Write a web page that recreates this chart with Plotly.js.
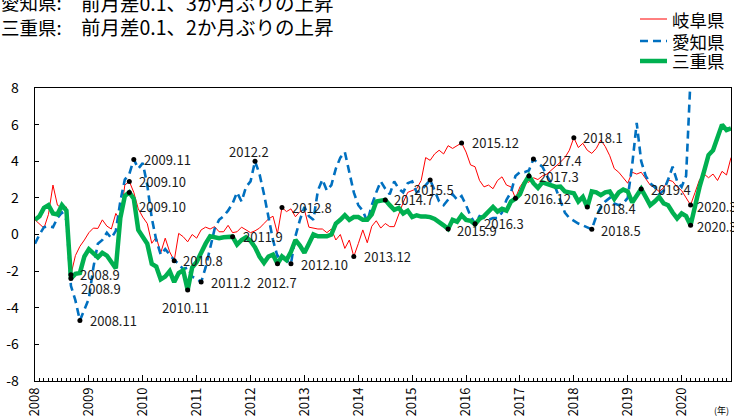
<!DOCTYPE html>
<html><head><meta charset="utf-8">
<script src="https://cdn.plot.ly/plotly-3.0.1.min.js"></script>
<style>html,body{margin:0;padding:0;background:#fff;}#chart{width:734px;height:416px;}</style>
</head><body><div id="chart"></div>
<script>
// ---- data ----
const startYear = 2008;
const yearTickText = ['2008','2009','2010','2011','2012','2013','2014','2015','2016','2017','2018','2019','2020'];
const yTickVals = [-8,-6,-4,-2,0,2,4,6,8];
const yTickText = ['-8','-6','-4','-2','0','2','4','6','8'];
const seriesNames = ['岐阜県','愛知県','三重県'];
const headPrefix = ['愛知県:','三重県:'];
const headText = ['前月差0.1、3か月ぶりの上昇','前月差0.1、2か月ぶりの上昇'];
const unitLabel = '(年)';

const gifu = [
0.8,0.6,0.35,1.1,2.7,1.6,1.45,1.5,-2.2,-1.15,
-0.65,-0.3,0.1,0.35,0.33,0.8,0.46,0.3,1.15,0.75,
2.7,2.9,2.3,1.4,0.95,0.6,-0.48,-0.15,-1.0,-0.2,
-0.95,-1.43,0.06,-0.12,-0.4,0.0,-0.2,0.25,0.4,0.3,
0.43,0.15,0.15,0.5,0.1,0.15,0.4,0.25,0.1,0.2,
0.35,0.6,0.85,1.0,0.05,1.48,1.25,1.4,0.97,1.25,
1.35,0.4,0.35,0.3,0.3,0.1,0.3,-0.3,0.0,-0.76,
-0.3,-1.2,-0.5,0.25,-0.45,0.45,0.75,0.35,0.6,0.43,
0.43,1.15,1.75,2.3,2.4,2.5,2.95,4.2,4.05,4.4,
4.6,4.4,4.85,4.7,4.85,5.0,4.5,3.8,3.7,2.95,
2.6,2.7,2.5,2.95,3.15,2.7,2.6,1.98,2.6,2.95,
2.85,3.1,3.0,3.2,3.3,3.5,3.7,3.95,4.2,4.6,
5.29,4.75,4.98,4.6,4.43,4.7,5.16,4.8,4.3,3.6,
3.4,3.1,2.8,3.4,3.3,3.4,3.05,2.7,2.55,2.35,
2.55,2.98,2.9,2.6,2.4,2.0,1.61,2.3,3.0,3.3,
3.1,3.3,2.95,3.45,3.25,4.2
];
const aichi = [
-0.5,0.0,0.4,0.45,0.4,0.9,1.2,0.8,-2.8,-3.6,
-4.7,-4.1,-3.5,-1.8,-0.5,-0.3,0.1,-0.2,0.2,1.8,
3.0,3.3,4.1,3.6,3.9,2.7,0.9,-0.3,-1.1,-0.8,
-1.1,-1.4,-1.6,-1.9,-1.8,-2.3,-2.4,-2.6,-1.8,-0.8,
0.3,0.8,1.0,1.3,1.7,2.3,1.8,2.6,2.9,4.0,
3.3,2.2,0.9,-0.3,-1.2,-1.1,-1.4,-1.6,-0.1,0.8,
1.5,1.0,0.8,2.4,3.0,2.4,2.7,3.6,4.2,4.5,
3.4,2.3,1.6,1.3,0.7,1.6,2.3,2.9,2.5,2.2,
2.9,2.5,2.3,2.8,2.9,2.3,2.4,2.7,2.98,2.4,
1.8,1.6,1.9,2.2,1.9,2.1,1.6,1.0,0.59,1.0,
0.9,0.8,0.9,0.9,1.2,1.9,2.3,3.2,3.4,3.4,
3.5,4.12,3.9,3.7,3.2,2.8,2.5,1.8,1.2,0.9,
0.75,0.6,0.5,0.4,0.28,1.0,1.5,1.8,2.0,1.7,
1.6,1.7,2.0,3.8,6.1,4.0,3.2,2.8,2.6,2.2,
2.4,3.0,3.7,2.9,2.6,3.2,8.6,null,null,null,
null,null,null,null,null,null
];
const mie = [
0.8,1.0,1.45,1.6,1.15,1.1,1.6,1.3,-2.4,-2.15,
-2.1,-1.2,-0.8,-1.05,-1.25,-1.0,-1.15,-1.5,-1.85,0.9,
2.1,2.3,1.95,0.25,-0.1,-0.5,-1.6,-1.75,-2.45,-2.3,
-2.0,-2.6,-2.1,-1.95,-3.03,-1.8,-1.5,-0.95,-0.5,-0.1,
-0.12,-0.2,-0.15,-0.15,-0.12,-0.55,-0.3,-0.15,-0.35,-0.7,
-1.2,-1.55,-1.2,-1.1,-1.6,-1.2,-1.4,-0.95,-0.3,-0.6,
-1.0,-0.5,0.0,-0.1,-0.1,-0.1,0.0,0.6,0.8,1.05,
0.8,0.95,0.95,0.8,0.8,1.1,1.8,1.85,1.89,1.6,
1.35,1.45,1.15,1.3,0.95,1.05,0.98,0.98,0.95,0.85,
0.7,0.5,0.3,0.8,0.7,1.05,0.8,0.75,0.55,0.85,
1.0,1.25,1.5,1.25,1.4,1.3,1.8,1.95,2.2,2.8,
3.2,2.8,2.55,2.85,2.75,2.65,2.6,2.62,2.35,2.3,
2.25,1.8,2.05,1.5,2.35,2.3,2.15,2.3,2.35,1.95,
2.3,2.45,2.35,1.75,2.1,2.49,2.05,1.6,1.8,2.05,
1.7,1.6,1.2,0.88,1.15,1.0,0.5,1.6,2.6,3.45,
4.34,4.6,5.3,6.0,5.7,5.8
];
// annotated points: series key and year.month label
const markSeries = ['gifu','mie','aichi','gifu','mie','aichi','gifu','mie','aichi','mie','aichi','mie','gifu','aichi','gifu','mie','aichi','mie','gifu','aichi','gifu','mie','aichi','gifu','mie','aichi','mie','gifu','mie'];
const markLabels = ['2008.9','2008.9','2008.11','2009.10','2009.10','2009.11','2010.8','2010.11','2011.2','2011.9','2012.2','2012.7','2012.8','2012.10','2013.12','2014.7','2015.5','2015.9','2015.12','2016.3','2016.12','2017.3','2017.4','2018.1','2018.4','2018.5','2019.4','2020.3','2020.3'];

// ---- build ----
const seriesData = {gifu: gifu, aichi: aichi, mie: mie};
const months = gifu.map((_, i) => i);
const yearTickVals = yearTickText.map((_, k) => k * 12);
const monthIndex = lab => { const p = lab.split('.'); return (+p[0] - startYear) * 12 + (+p[1] - 1); };

const W = 734, H = 416, L = 35, R = 3, T = 88, B = 35;
const pw = W - L - R, ph = H - T - B;
const px = x => (x - L) / pw;      // pixel -> paper x
const py = y => (H - B - y) / ph;  // pixel -> paper y

const FONT = '"Noto Sans CJK JP", "Noto Sans", sans-serif';

// label placement (anchor, dx, dy in px; dy positive = down)
const place = [
 ['left',7,0],['left',8,10],['left',8,0],['left',8,0],['left',8,14],['left',8,0],
 ['left',7,0],['center',-2,18],['left',8,0],['left',8,0],['center',-6,-10],['center',0,19],
 ['left',8,0],['left',8,1],['left',8,0],['left',7,0],['center',4,10],['left',7,1],
 ['left',8,0],['left',7,0],['left',7,0],['left',8,1],['left',7,1],['left',7,0],
 ['left',7,1],['left',7,1],['left',8,1],['left',4,1],['left',4,1]
];

const traces = [
 {x: months, y: gifu, name: seriesNames[0], mode: 'lines', line: {color: '#FF0000', width: 1}, showlegend: false, hoverinfo: 'skip'},
 {x: months, y: aichi, name: seriesNames[1], mode: 'lines', line: {color: '#0070C0', width: 2.6, dash: '8px,5px'}, showlegend: false, hoverinfo: 'skip'},
 {x: months, y: mie, name: seriesNames[2], mode: 'lines', line: {color: '#00B050', width: 4.5}, showlegend: false, hoverinfo: 'skip'},
 {x: markLabels.map(monthIndex), y: markLabels.map((lab, k) => seriesData[markSeries[k]][monthIndex(lab)]),
  mode: 'markers', marker: {color: '#000', size: 5}, showlegend: false, hoverinfo: 'skip'}
];

const annotations = [];
markLabels.forEach((lab, k) => {
  const i = monthIndex(lab);
  const pl = place[k];
  annotations.push({x: i, y: seriesData[markSeries[k]][i], xref: 'x', yref: 'y', text: lab, showarrow: false,
    xanchor: pl[0], yanchor: 'middle', xshift: pl[1], yshift: -pl[2],
    font: {family: FONT, size: 13, color: '#1a1a1a'}});
});
// headlines
const headY = [2, 26.5];
headPrefix.forEach((t, k) => {
  annotations.push({xref: 'paper', yref: 'paper', x: px(-1), y: py(headY[k]), xanchor: 'left', yanchor: 'middle',
    text: t, showarrow: false, font: {family: FONT, size: 18.5, color: '#000'}});
  annotations.push({xref: 'paper', yref: 'paper', x: px(79), y: py(headY[k]), xanchor: 'left', yanchor: 'middle',
    text: headText[k], showarrow: false, font: {family: FONT, size: 19.5, color: '#000'}});
});
// legend (manual)
const legY = [19, 41, 61];
const legStyle = [{color: '#FF0000', width: 1}, {color: '#0070C0', width: 2.6, dash: '8px,5px'}, {color: '#00B050', width: 4.5}];
const shapes = [];
seriesNames.forEach((n, k) => {
  shapes.push({type: 'line', xref: 'paper', yref: 'paper', x0: px(640), x1: px(667), y0: py(legY[k]), y1: py(legY[k]), line: legStyle[k]});
  annotations.push({xref: 'paper', yref: 'paper', x: px(670), y: py(legY[k]), xanchor: 'left', yanchor: 'middle',
    text: n, showarrow: false, font: {family: FONT, size: 17.5, color: '#000'}});
});
annotations.push({xref: 'paper', yref: 'paper', x: px(731), y: py(410), xanchor: 'right', yanchor: 'middle',
  text: unitLabel, showarrow: false, font: {family: FONT, size: 9, color: '#000'}});

const layout = {
  width: W, height: H,
  margin: {l: L, r: R, t: T, b: B, pad: 0},
  paper_bgcolor: '#fff', plot_bgcolor: '#fff',
  showlegend: false,
  font: {family: FONT, size: 13, color: '#000'},
  xaxis: {range: [0, gifu.length - 1], tickmode: 'array', tickvals: yearTickVals, ticktext: yearTickText,
    tickangle: -90, ticks: 'inside', ticklen: 6, tickwidth: 1, tickcolor: '#000',
    minor: {tickmode: 'linear', tick0: 0, dtick: 1, ticks: 'inside', ticklen: 3, tickwidth: 1, tickcolor: '#000'},
    showgrid: false, zeroline: false, showline: true, mirror: true, linecolor: '#000', linewidth: 1.3,
    tickfont: {family: FONT, size: 13, color: '#000'}},
  yaxis: {range: [-8, 8], tickmode: 'array', tickvals: yTickVals, ticktext: yTickText,
    ticks: 'inside', ticklen: 4, tickcolor: '#000', showgrid: false, zeroline: false,
    showline: true, mirror: true, linecolor: '#000', linewidth: 1.3, ticklabelstandoff: 12,
    tickfont: {family: FONT, size: 14, color: '#000'}},
  annotations: annotations,
  shapes: shapes
};

Plotly.newPlot('chart', traces, layout, {staticPlot: true, displayModeBar: false});
</script>
</body></html>
